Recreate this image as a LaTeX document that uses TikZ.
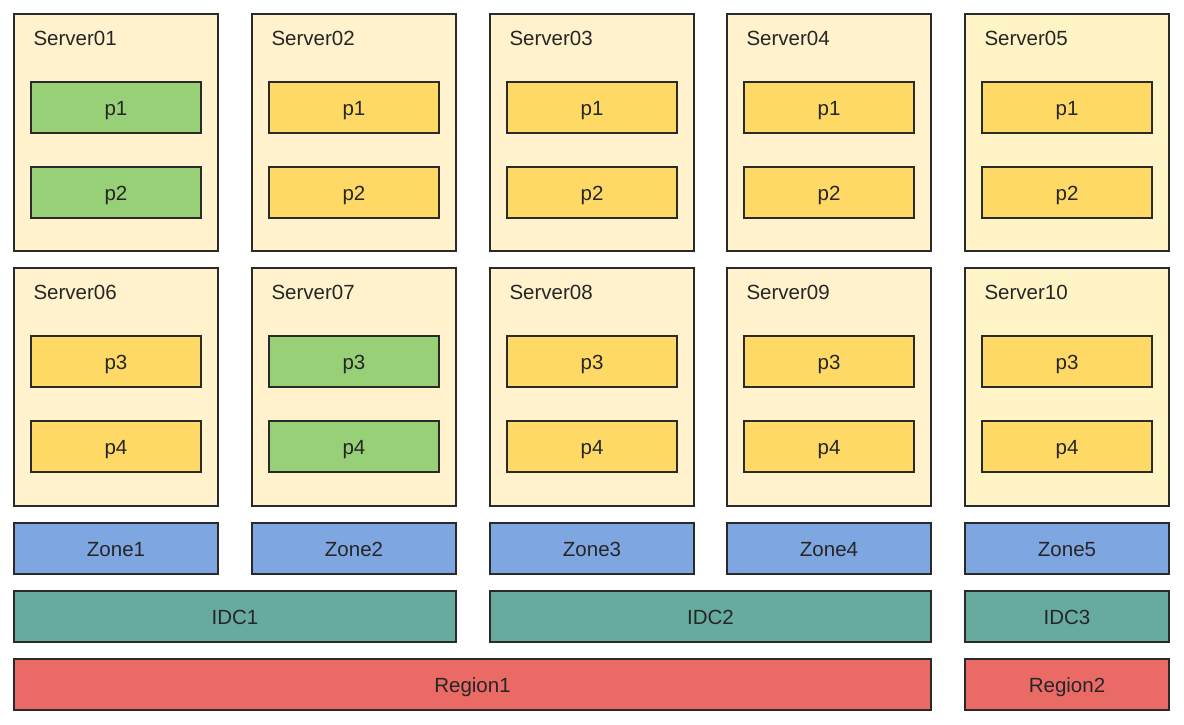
\documentclass[tikz,border=0pt]{standalone}
\usepackage{fontspec}
\setmainfont{Liberation Sans}
\definecolor{srvfill}{HTML}{FFF2CC}
\definecolor{srvfillb}{HTML}{FFF4C6}
\definecolor{pgreen}{HTML}{97D077}
\definecolor{pyellow}{HTML}{FFD966}
\definecolor{zblue}{HTML}{7EA6E0}
\definecolor{iteal}{HTML}{67AB9F}
\definecolor{rred}{HTML}{EA6B66}
\definecolor{edge}{HTML}{2A2A2A}
\begin{document}
\begin{tikzpicture}[x=1pt,y=-1pt,
  every node/.style={font=\fontsize{20.5}{24}\selectfont, text=black!85, anchor=base},
  box/.style={draw=edge, line width=1.6pt},
  srv/.style={box, fill=srvfill},
  pg/.style={box, fill=pgreen},
  py/.style={box, fill=pyellow},
  zone/.style={box, fill=zblue},
  idc/.style={box, fill=iteal},
  reg/.style={box, fill=rred}]
\useasboundingbox (0,0) rectangle (1184,725);
\fill[white] (0,0) rectangle (1184,725);
\def\cols{14/1,252/2,490/3,727/4,965/5}
\foreach \x/\i in \cols {
  \pgfmathsetmacro{\xr}{\x+204}
  \pgfmathtruncatemacro{\j}{\i+5}
  \ifnum\i=5
    \draw[box, fill=srvfillb] (\x,14) rectangle (\xr,251);
    \draw[box, fill=srvfillb] (\x,268) rectangle (\xr,506);
  \else
    \draw[srv] (\x,14) rectangle (\xr,251);
    \draw[srv] (\x,268) rectangle (\xr,506);
  \fi
  \node[anchor=base west] (s\i) at (\x+16,45.5) {Server0\i};
  \ifnum\j<10
    \node[anchor=base west] (s\j) at (\x+16,299.5) {Server0\j};
  \else
    \node[anchor=base west] (s\j) at (\x+16,299.5) {Server\j};
  \fi
  \draw[zone] (\x,523) rectangle (\xr,574);
  \node (z\i) at (\x+102,556) {Zone\i};
}
\foreach \x/\i in \cols {
  \pgfmathsetmacro{\pa}{\x+17}
  \pgfmathsetmacro{\pb}{\x+187}
  \pgfmathsetmacro{\pc}{\x+102}
  \ifnum\i=1 \def\sa{pg}\else\def\sa{py}\fi
  \ifnum\i=2 \def\sb{pg}\else\def\sb{py}\fi
  \draw[\sa] (\pa,82) rectangle (\pb,133);
  \node (p1-\i) at (\pc,115) {p1};
  \draw[\sa] (\pa,167) rectangle (\pb,218);
  \node (p2-\i) at (\pc,200) {p2};
  \draw[\sb] (\pa,336) rectangle (\pb,387);
  \node (p3-\i) at (\pc,369) {p3};
  \draw[\sb] (\pa,421) rectangle (\pb,472);
  \node (p4-\i) at (\pc,454) {p4};
}
\draw[idc] (14,591) rectangle (456,642);
\node (idc1) at (235,624) {IDC1};
\draw[idc] (490,591) rectangle (931,642);
\node (idc2) at (710.5,624) {IDC2};
\draw[idc] (965,591) rectangle (1169,642);
\node (idc3) at (1067,624) {IDC3};
\draw[reg] (14,659) rectangle (931,710);
\node (reg1) at (472.5,692) {Region1};
\draw[reg] (965,659) rectangle (1169,710);
\node (reg2) at (1067,692) {Region2};
\end{tikzpicture}
\end{document}
